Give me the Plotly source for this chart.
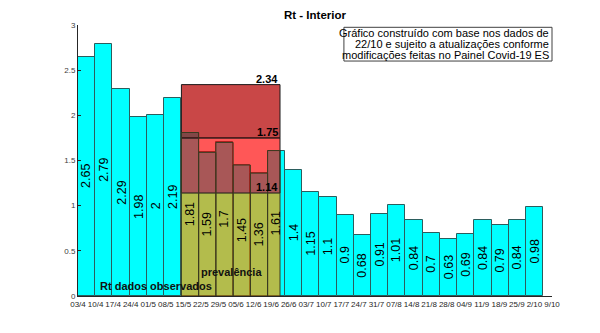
import numpy as np
import plotly.graph_objects as go

# Weekly Rt estimates for the interior region
semanas = ["03/4", "10/4", "17/4", "24/4", "01/5", "08/5", "15/5", "22/5", "29/5",
           "05/6", "12/6", "19/6", "26/6", "03/7", "10/7", "17/7", "24/7", "31/7",
           "07/8", "14/8", "21/8", "28/8", "04/9", "11/9", "18/9", "25/9", "2/10", "9/10"]
rt_obs = [2.65, 2.79, 2.29, 1.98, 2, 2.19, 1.81, 1.59, 1.7, 1.45, 1.36, 1.61,
          1.4, 1.15, 1.1, 0.9, 0.68, 0.91, 1.01, 0.84, 0.7, 0.63, 0.69, 0.84,
          0.79, 0.84, 0.98]
# Rt bands estimated from prevalence (low, mid, high)
faixas_prev = [1.14, 1.75, 2.34]
prev_inicio, prev_fim = 5.5, 11.22

FONT = "Liberation Sans, Arial, sans-serif"
AX = "#262626"
EDGE = "#2b5d5d"

x = list(range(len(rt_obs)))
xmin, xmax = -0.5, 27.0

fig = go.Figure()
fig.add_trace(go.Bar(
    x=x, y=rt_obs, width=1,
    marker=dict(color="#00FFFF", line=dict(color=EDGE, width=1)),
    hoverinfo="x+y",
))

# prevalence bands
shapes = [
    dict(type="rect", xref="x", yref="y", x0=prev_inicio, x1=prev_fim,
         y0=0, y1=faixas_prev[0], fillcolor="rgba(255,160,0,0.70)",
         line=dict(width=0), layer="above"),
    dict(type="rect", xref="x", yref="y", x0=prev_inicio, x1=prev_fim,
         y0=faixas_prev[0], y1=faixas_prev[1], fillcolor="rgba(255,0,0,0.66)",
         line=dict(color="#1a1a1a", width=1), layer="above"),
    dict(type="rect", xref="x", yref="y", x0=prev_inicio, x1=prev_fim,
         y0=faixas_prev[1], y1=faixas_prev[2], fillcolor="rgba(180,0,0,0.72)",
         line=dict(color="#1a1a1a", width=1), layer="above"),
]
# keep the outlines of the bars under the bands dark
for xi, v in zip(x, rt_obs):
    if prev_inicio < xi < prev_fim:
        shapes.append(dict(
            type="rect", xref="x", yref="y", x0=xi - 0.5, x1=min(xi + 0.5, prev_fim),
            y0=0, y1=v, fillcolor="rgba(0,0,0,0)",
            line=dict(color="#3a3a20", width=1), layer="above"))
# note box
shapes.append(dict(type="rect", xref="paper", yref="paper", x0=0.561, x1=1.0,
                   y0=0.867, y1=0.9915, fillcolor="white",
                   line=dict(color="#404040", width=1), layer="above"))

annotations = []
# values written vertically inside each bar
for xi, v in zip(x, rt_obs):
    annotations.append(dict(
        x=xi, y=v / 2, xref="x", yref="y", text=f"{v:g}", showarrow=False,
        textangle=-90, font=dict(family=FONT, size=12.5, color="black"),
        xanchor="center", yanchor="middle"))

# band values
for v in faixas_prev:
    annotations.append(dict(
        x=prev_fim, y=v, xref="x", yref="y", text=f"<b>{v:g}</b>",
        showarrow=False, xanchor="right", yanchor="bottom", yshift=-2,
        font=dict(family=FONT, size=11, color="black")))

annotations += [
    dict(x=4.03, y=0.11, xref="x", yref="y", text="<b>Rt dados observados</b>",
         showarrow=False, font=dict(family=FONT, size=11, color="#111111")),
    dict(x=8.38, y=0.27, xref="x", yref="y", text="<b>prevalência</b>",
         showarrow=False, font=dict(family=FONT, size=11, color="#111111")),
    dict(x=0.5, y=1.037, xref="paper", yref="paper", text="<b>Rt - Interior</b>",
         showarrow=False, yanchor="middle",
         font=dict(family=FONT, size=11.5, color="black")),
]

nota = ["Gráfico construído com base nos dados de",
        "22/10 e sujeito a atualizações conforme",
        "modificações feitas no Painel Covid-19 ES"]
for linha, yp in zip(nota, [0.9697, 0.9288, 0.889]):
    annotations.append(dict(
        x=0.998, y=yp, xref="paper", yref="paper", text=linha,
        showarrow=False, xanchor="right", yanchor="middle",
        font=dict(family=FONT, size=11, color="black")))

fig.update_layout(
    width=600, height=333,
    margin=dict(l=78, r=48, t=25, b=37),
    paper_bgcolor="white", plot_bgcolor="white",
    bargap=0, showlegend=False,
    shapes=shapes, annotations=annotations,
    font=dict(family=FONT, color=AX),
)
fig.update_xaxes(
    range=[xmin, xmax],
    tickmode="array",
    tickvals=list(np.linspace(xmin, xmax, len(semanas))),
    ticktext=semanas,
    tickangle=0,
    tickfont=dict(family=FONT, size=8, color=AX),
    showline=True, linecolor=AX, linewidth=1,
    ticks="", showgrid=False, zeroline=False,
)
fig.update_yaxes(
    range=[0, 3], tickmode="array",
    tickvals=[0, 0.5, 1, 1.5, 2, 2.5, 3],
    ticktext=["0", "0.5", "1", "1.5", "2", "2.5", "3"],
    tickfont=dict(family=FONT, size=8, color="#404040"),
    ticks="inside", ticklen=3, tickcolor=AX,
    showline=True, linecolor=AX, linewidth=1,
    showgrid=False, zeroline=False,
)

fig.write_html("out.html")
